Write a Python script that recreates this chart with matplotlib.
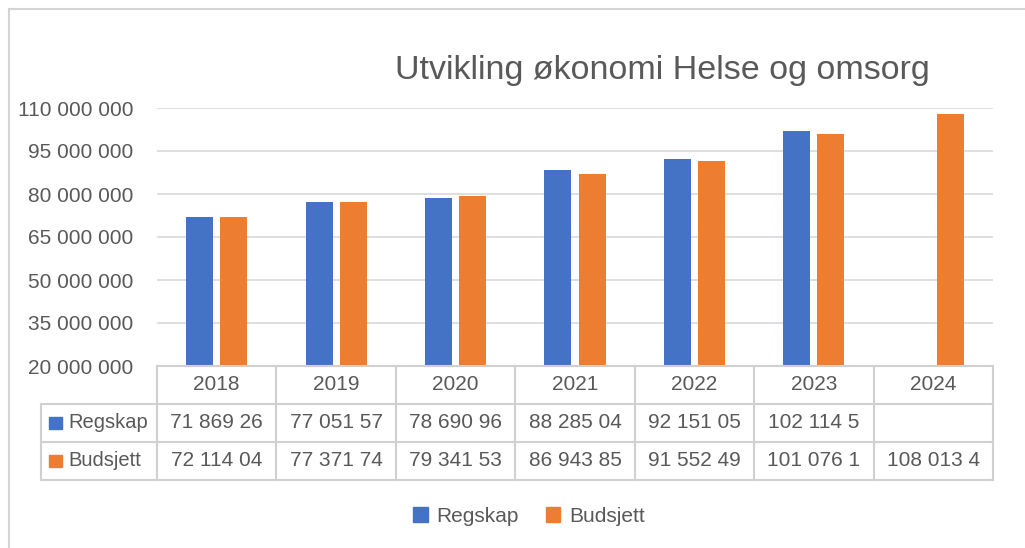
import matplotlib.pyplot as plt
from matplotlib.patches import Rectangle
from matplotlib.lines import Line2D

plt.rcParams['font.family'] = ['Liberation Sans', 'DejaVu Sans']

years = ['2018', '2019', '2020', '2021', '2022', '2023', '2024']
regskap = [71869260, 77051570, 78690960, 88285040, 92151050, 102114500, None]
budsjett = [72114040, 77371740, 79341530, 86943850, 91552490, 101076100, 108013400]
# texts as shown (cut off) in the data table
regskap_txt = ['71 869 26', '77 051 57', '78 690 96', '88 285 04', '92 151 05', '102 114 5', '']
budsjett_txt = ['72 114 04', '77 371 74', '79 341 53', '86 943 85', '91 552 49', '101 076 1', '108 013 4']
yticks = [20000000, 35000000, 50000000, 65000000, 80000000, 95000000, 110000000]

blue = '#4472c4'
orange = '#ed7d31'
txt = '#595959'
grid = '#d9d9d9'
fs = 15

W, H = 1025, 548
fig = plt.figure(figsize=(W / 100, H / 100), dpi=100)

def box(l, t, r, b):
    return [l / W, 1 - b / H, (r - l) / W, (b - t) / H]

# outer chart border (top + left visible)
fig.add_artist(Line2D([9 / W, 1], [1 - 9 / H, 1 - 9 / H], color='#d4d4d4', lw=1.5))
fig.add_artist(Line2D([9 / W, 9 / W], [0, 1 - 9 / H], color='#d4d4d4', lw=1.5))

ax = fig.add_axes(box(157, 108, 993, 366))
x = list(range(len(years)))
bw = 0.226
off = 0.1425
ax.bar([i - off for i, v in zip(x, regskap) if v is not None],
       [v for v in regskap if v is not None], width=bw, color=blue, zorder=3)
ax.bar([i + off for i in x], budsjett, width=bw, color=orange, zorder=3)
ax.set_xlim(-0.5, 6.5)
ax.set_ylim(20000000, 110000000)
ax.set_yticks(yticks)
ax.set_yticklabels([f'{v:,}'.replace(',', ' ') for v in yticks], fontsize=fs, color=txt)
ax.tick_params(axis='y', length=0, pad=17)
ax.set_xticks([])
ax.grid(axis='y', color=grid, lw=1.2, zorder=0)
for s in ax.spines.values():
    s.set_visible(False)

ax.set_title('Utvikling økonomi Helse og omsorg', fontsize=24.5, color=txt,
             x=0.605, y=1.08)

# data table below the plot, same x scale as the bars
tab = fig.add_axes(box(157, 366, 993, 480))
tab.set_xlim(-0.5, 6.5)
tab.set_ylim(3, 0)
tab.axis('off')
lc = '#d0d0d0'
left = -0.5 - 116 / 119.4
tab.plot([-0.5, 6.5], [0, 0], color=lc, lw=1.5, clip_on=False)
for r in (1, 2, 3):
    tab.plot([left, 6.5], [r, r], color=lc, lw=1.5, clip_on=False)
for i in range(8):
    tab.plot([i - 0.5, i - 0.5], [0, 3], color=lc, lw=1.5, clip_on=False)
tab.plot([left, left], [1, 3], color=lc, lw=1.5, clip_on=False)

for i, y in enumerate(years):
    tab.text(i, 0.5, y, ha='center', va='center', fontsize=fs, color=txt)
    tab.text(i, 1.5, regskap_txt[i], ha='center', va='center', fontsize=fs, color=txt)
    tab.text(i, 2.5, budsjett_txt[i], ha='center', va='center', fontsize=fs, color=txt)

for row, name, col in ((1.5, 'Regskap', blue), (2.5, 'Budsjett', orange)):
    tab.add_patch(Rectangle((left + 8 / 119.4, row - 0.17), 13 / 119.4, 0.34,
                            color=col, clip_on=False))
    tab.text(left + 27 / 119.4, row, name, ha='left', va='center', fontsize=14.5, color=txt)

# legend
handles = [Rectangle((0, 0), 1, 1, color=blue), Rectangle((0, 0), 1, 1, color=orange)]
fig.legend(handles, ['Regskap', 'Budsjett'], loc='center', bbox_to_anchor=(529 / W, 1 - 516 / H),
           ncol=2, frameon=False, fontsize=fs, handlelength=0.7, handleheight=0.7,
           handletextpad=0.4, columnspacing=1.3, labelcolor=txt)

fig.savefig('out.png', dpi=100)
